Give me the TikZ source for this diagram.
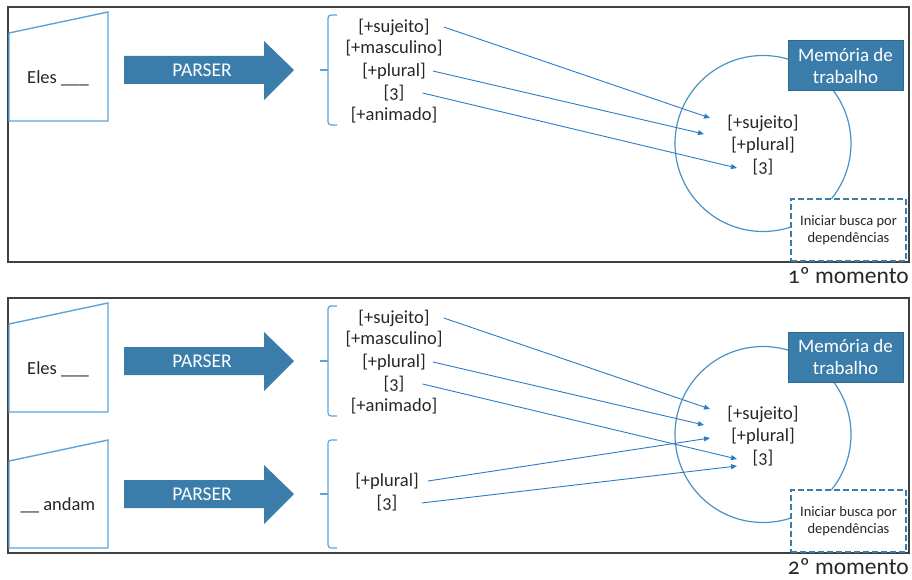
\documentclass[tikz,border=0pt]{standalone}
\usepackage{fontspec}
\setmainfont{Carlito}[Numbers=OldStyle]
\usetikzlibrary{arrows.meta}
\definecolor{pblue}{HTML}{3B7DAA}
\definecolor{pdark}{HTML}{2F6890}
\definecolor{lblue}{HTML}{5BA3DA}
\definecolor{ablue}{HTML}{2C7BC4}
\definecolor{cblue}{HTML}{4A92C4}
\definecolor{tgray}{HTML}{262626}

\begin{document}
\begin{tikzpicture}[x=1pt, y=-1pt, font=\fontsize{18.5}{22}\selectfont, text=tgray,
  frame/.style={draw=black!75, line width=1.3pt},
  sheet/.style={draw=lblue, line width=1.4pt},
  parser/.style={fill=pblue},
  brk/.style={draw=lblue, line width=1.2pt, rounded corners=3pt},
  feat/.style={inner sep=0pt},
  arr/.style={draw=ablue, line width=0.9pt, -{Triangle[length=6pt, width=5pt]}},
  mem/.style={draw=cblue, line width=1.2pt, circle, minimum size=176pt, inner sep=0pt},
  membox/.style={fill=pblue, draw=pdark, line width=1pt, minimum width=115pt, minimum height=50pt, text=white, align=center},
  busca/.style={draw=pblue, fill=white, dash pattern=on 6pt off 3pt, line width=2.8pt, minimum width=115pt, minimum height=62pt, align=center, font=\fontsize{14.5}{17}\selectfont}]
\useasboundingbox (0,0) rectangle (912,580);

% both moments share the same upper part
\foreach \p/\dy/\m in {a/0/1, b/291/2} {
\begin{scope}[yshift=-\dy pt, name prefix=\p-]
\draw[frame] (8,7) rectangle (909,262);
\draw[sheet] (9,33) -- (108,12) -- (108,121) -- (9,121) -- cycle;
\node (src) at (58,78) {Eles \_\_\_};
\fill[parser] (124,56) -- (264,56) -- (264,41) -- (294,70) -- (264,100) -- (264,84) -- (124,84) -- cycle;
\node[text=white, font=\fontsize{19.5}{22}\selectfont] (prs) at (202,70) {PARSER};
\draw[brk] (337,15) -| (328,125) -- (337,125);
\draw[brk] (328,70) -- (320,70);
\node[feat] (suj) at (394,27) {[+sujeito]};
\node[feat] (masc) at (394,48) {[+masculino]};
\node[feat] (plu) at (394,71) {[+plural]};
\node[feat] (tres) at (394,93) {[3]};
\node[feat] (anim) at (394,115) {[+animado]};
\node[mem] (wm) at (763,143.5) {};
\node (isuj) at (763,123) {[+sujeito]};
\node (iplu) at (763,145) {[+plural]};
\node (itres) at (763,167) {[3]};
\coordinate (tsuj) at (710,118);
\coordinate (tplu) at (704,134);
\coordinate (ttres) at (737,168);
\draw[arr] ([xshift=14pt]suj.east) -- (tsuj);
\draw[arr] ([xshift=7pt]plu.east) -- (tplu);
\draw[arr] ([xshift=18pt]tres.east) -- (ttres);
\node[membox, font=\fontsize{19}{22}\selectfont] (mt) at (845.5,66) {Memória de\\trabalho};
\node[busca] (ib) at (848.5,230) {Iniciar busca por\\dependências};
\node[anchor=base east, inner sep=0pt, text depth=0pt, font=\fontsize{23.5}{28}\selectfont] (mom) at (909,283.5) {\m º momento};
\end{scope}
}

% second word, only in the 2nd moment
\draw[sheet] (9,461) -- (108,440) -- (108,548) -- (9,548) -- cycle;
\node (src2) at (58,505) {\_\_ andam};
\fill[parser] (124,480) -- (264,480) -- (264,465) -- (294,494) -- (264,524) -- (264,508) -- (124,508) -- cycle;
\node[text=white, font=\fontsize{19.5}{22}\selectfont] (prs2) at (202,494) {PARSER};
\draw[brk] (337,440) -| (328,548) -- (337,548);
\draw[brk] (328,494) -- (320,494);
\node[feat] (plu2) at (387,481) {[+plural]};
\node[feat] (tres2) at (387,503) {[3]};
\coordinate (tplu2) at (710,438);
\coordinate (ttres2) at (737,466);
\draw[arr] ([xshift=9pt]plu2.east) -- (tplu2);
\draw[arr] ([xshift=24pt]tres2.east) -- (ttres2);
\end{tikzpicture}
\end{document}
